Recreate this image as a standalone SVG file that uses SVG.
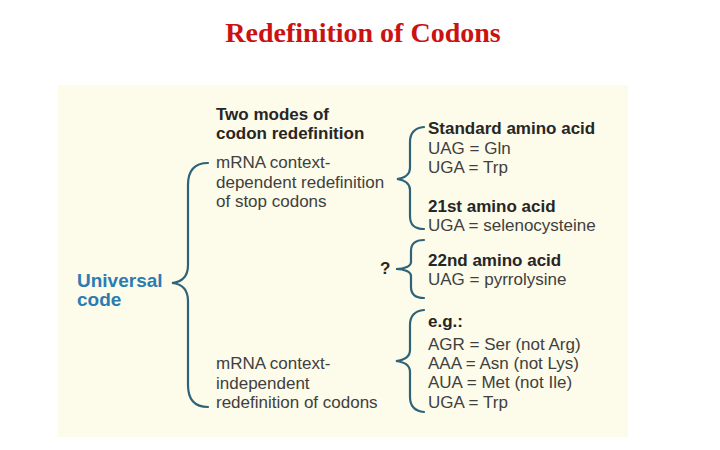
<svg xmlns="http://www.w3.org/2000/svg" width="720" height="450" viewBox="0 0 720 450">
<style>
.t{font-family:"Liberation Sans",Arial,sans-serif;font-size:17px;fill:#404040}
.b{font-family:"Liberation Sans",Arial,sans-serif;font-size:17px;font-weight:bold;fill:#262626}
.u{font-family:"Liberation Sans",Arial,sans-serif;font-size:19px;font-weight:bold;fill:#2b7cb3}
.br{fill:none;stroke:#2e6379;stroke-width:2.2;stroke-linecap:round}
</style>
<rect width="720" height="450" fill="#ffffff"/>
<text x="363" y="42" text-anchor="middle" font-family="Liberation Serif,Times New Roman,serif" font-size="28" font-weight="bold" fill="#cc1111">Redefinition of Codons</text>
<rect x="58" y="85" width="570" height="352" fill="#fdfbe9"/>
<g id="connectors">
<path class="br" d="M 208 163 C 195 163, 188 170, 188 185 L 188 265 C 188 276, 182 282, 172 283 C 182 284, 188 290, 188 301 L 188 385 C 188 400, 195 407, 208 407"/>
<path class="br" d="M 424 127 C 414 128, 410 133, 410 142 L 410 168 C 410 174, 405 178, 397 179 C 405 180, 410 184, 410 190 L 410 216 C 410 225, 414 229, 424 229"/>
<path class="br" d="M 424 240 C 415 240, 411 244, 411 251 L 411 262 C 411 266, 405 269, 396 269 C 405 269, 411 272, 411 276 L 411 287 C 411 294, 415 298, 424 298"/>
<path class="br" d="M 424 310 C 414 311, 410 316, 410 325 L 410 350 C 410 356, 405 360, 396 361 C 405 362, 410 366, 410 372 L 410 397 C 410 406, 414 411, 424 412"/>
</g>
<g id="universal">
<text class="u" x="77" y="287">Universal</text>
<text class="u" x="77" y="306">code</text>
</g>
<g id="modes-title">
<text class="b" x="216" y="120">Two modes of</text>
<text class="b" x="216" y="139">codon redefinition</text>
</g>
<g id="context-dependent">
<text class="t" x="216" y="168">mRNA context-</text>
<text class="t" x="216" y="188">dependent redefinition</text>
<text class="t" x="216" y="207">of stop codons</text>
</g>
<g id="context-independent">
<text class="t" x="216" y="369">mRNA context-</text>
<text class="t" x="216" y="389">independent</text>
<text class="t" x="216" y="408">redefinition of codons</text>
</g>
<g id="question">
<text class="b" x="380" y="274">?</text>
</g>
<g id="standard">
<text class="b" x="428" y="134">Standard amino acid</text>
<text class="t" x="428" y="154">UAG = Gln</text>
<text class="t" x="428" y="173">UGA = Trp</text>
</g>
<g id="aa21">
<text class="b" x="428" y="212">21st amino acid</text>
<text class="t" x="428" y="231">UGA = selenocysteine</text>
</g>
<g id="aa22">
<text class="b" x="428" y="266">22nd amino acid</text>
<text class="t" x="428" y="285">UAG = pyrrolysine</text>
</g>
<g id="examples">
<text class="b" x="428" y="327">e.g.:</text>
<text class="t" x="428" y="350">AGR = Ser (not Arg)</text>
<text class="t" x="428" y="369">AAA = Asn (not Lys)</text>
<text class="t" x="428" y="388">AUA = Met (not Ile)</text>
<text class="t" x="428" y="408">UGA = Trp</text>
</g>
</svg>
